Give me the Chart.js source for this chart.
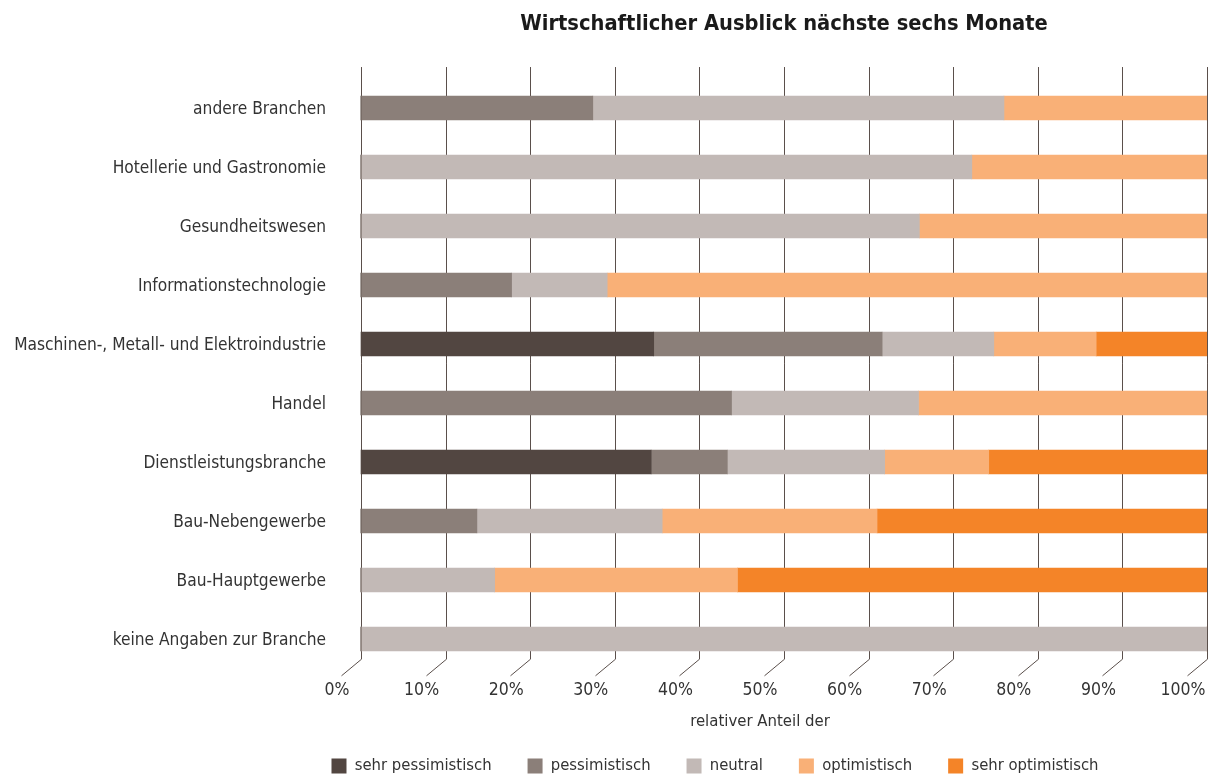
<!DOCTYPE html>
<html>
<head>
<meta charset="utf-8">
<script src="https://cdn.jsdelivr.net/npm/chart.js@4.4.1/dist/chart.umd.min.js"></script>
<style>
  html, body { margin: 0; padding: 0; background: #ffffff; }
  #wrap { width: 1215px; height: 776px; }
</style>
</head>
<body>
<div id="wrap"><canvas id="c" width="1215" height="776"></canvas></div>
<script>
const categories = [
  'andere Branchen',
  'Hotellerie und Gastronomie',
  'Gesundheitswesen',
  'Informationstechnologie',
  'Maschinen-, Metall- und Elektroindustrie',
  'Handel',
  'Dienstleistungsbranche',
  'Bau-Nebengewerbe',
  'Bau-Hauptgewerbe',
  'keine Angaben zur Branche'
];
const seriesNames = ['sehr pessimistisch', 'pessimistisch', 'neutral', 'optimistisch', 'sehr optimistisch'];
const sehrPessimistisch = [0, 0, 0, 0, 34.6, 0, 34.3, 0, 0, 0];
const pessimistisch     = [27.4, 0, 0, 17.8, 27.0, 43.8, 9.0, 13.7, 0, 0];
const neutral           = [48.6, 72.2, 66.0, 11.3, 13.2, 22.1, 18.6, 21.9, 15.8, 100];
const optimistisch      = [24.0, 27.8, 34.0, 70.9, 12.1, 34.1, 12.3, 25.4, 28.7, 0];
const sehrOptimistisch  = [0, 0, 0, 0, 13.1, 0, 25.8, 39.0, 55.5, 0];
const xTickValues = [0, 10, 20, 30, 40, 50, 60, 70, 80, 90, 100];
const xTickLabels = ['0%', '10%', '20%', '30%', '40%', '50%', '60%', '70%', '80%', '90%', '100%'];
const chartTitle = 'Wirtschaftlicher Ausblick nächste sechs Monate';
const xAxisTitle = 'relativer Anteil der';

const colors = ['#524641', '#8b7f79', '#c2b9b6', '#f9b077', '#f48428'];
const FONT = '"DejaVu Sans Condensed", "Liberation Sans Narrow", "Open Sans", sans-serif';
const TEXT = '#333333';

const seriesData = [sehrPessimistisch, pessimistisch, neutral, optimistisch, sehrOptimistisch];

const depthX = 20, depthY = 16.6;

const backGrid = {
  id: 'backGrid',
  beforeDatasetsDraw(chart) {
    const { ctx, chartArea, scales } = chart;
    const xs = scales.x;
    const top = chartArea.top - 11.5;
    const bottom = chartArea.bottom - 13;
    ctx.save();
    ctx.strokeStyle = '#5a4f4b';
    ctx.lineWidth = 1;
    xTickValues.forEach(v => {
      const x = Math.round(xs.getPixelForValue(v)) + 0.5;
      ctx.beginPath();
      ctx.moveTo(x, top);
      ctx.lineTo(x, bottom + 3.7);
      ctx.lineTo(x - depthX, bottom + 3.7 + depthY);
      ctx.stroke();
    });
    ctx.restore();
  }
};

// shift the legend block and the x-axis title to the reference's horizontal placement
const placement = {
  id: 'placement',
  afterLayout(chart) {
    if (chart.legend) { chart.legend.left = 223; }
    const xs = chart.scales.x;
    xs.left -= 48;
  }
};

new Chart(document.getElementById('c'), {
  type: 'bar',
  data: {
    labels: categories,
    datasets: seriesData.map((d, i) => ({
      label: seriesNames[i],
      data: d,
      backgroundColor: colors[i],
      borderWidth: 0,
      barThickness: 24
    }))
  },
  options: {
    indexAxis: 'y',
    responsive: false,
    animation: false,
    layout: { padding: { left: 0, right: 8, top: 0, bottom: -8.25 } },
    scales: {
      x: {
        stacked: true,
        min: 0, max: 100,
        afterBuildTicks(scale) { scale.ticks = xTickValues.map(v => ({ value: v })); },
        afterFit(scale) { scale.height = 53.25; scale.paddingLeft = 0; scale.paddingRight = 0; },
        grid: { display: false },
        border: { display: false },
        ticks: {
          callback: (v, i) => xTickLabels[i],
          color: TEXT,
          font: { family: FONT, size: 17.5 },
          padding: 3,
          labelOffset: -24,
          maxRotation: 0
        },
        title: {
          display: true,
          text: xAxisTitle,
          color: TEXT,
          font: { family: FONT, size: 16.6 },
          padding: { top: 0, bottom: -10 }
        }
      },
      y: {
        stacked: true,
        afterFit(scale) { scale.width = 361; },
        grid: { display: false },
        border: { display: false },
        ticks: {
          color: TEXT,
          font: { family: FONT, size: 17.2 },
          padding: 27,
          labelOffset: 2
        }
      }
    },
    plugins: {
      title: {
        display: true,
        fullSize: false,
        text: chartTitle,
        color: '#1a1a1a',
        font: { family: FONT, size: 21.7, weight: 'bold' },
        padding: { top: 11, bottom: 41.5 }
      },
      legend: {
        position: 'bottom',
        labels: {
          color: TEXT,
          font: { family: FONT, size: 16.5 },
          boxWidth: 15,
          boxHeight: 15,
          padding: 36
        }
      },
      tooltip: { enabled: false }
    }
  },
  plugins: [backGrid, placement]
});
</script>
</body>
</html>
